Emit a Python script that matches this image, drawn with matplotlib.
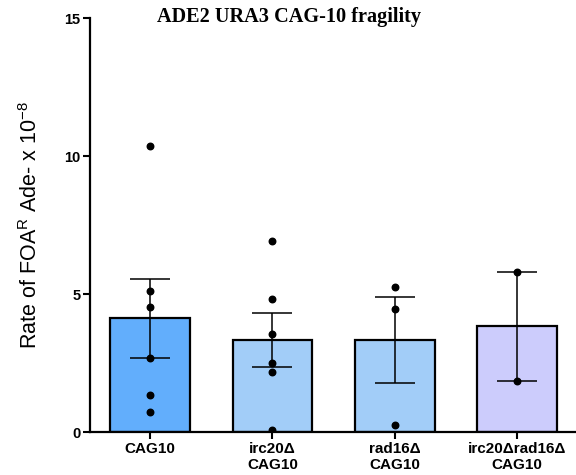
import numpy as np
import matplotlib
matplotlib.use("Agg")
import matplotlib.pyplot as plt

categories = ["CAG10", "irc20Δ\nCAG10", "rad16Δ\nCAG10", "irc20Δrad16Δ\nCAG10"]
points_cag10 = [10.37, 5.11, 4.54, 2.69, 1.34, 0.72]
points_irc20 = [6.93, 4.81, 3.55, 2.49, 2.17, 0.07]
points_rad16 = [5.26, 4.47, 0.25]
points_double = [5.81, 1.86]
groups = [points_cag10, points_irc20, points_rad16, points_double]
colors = ["#62AEFC", "#A2CDF8", "#A2CDF8", "#CCCCFC"]
yticks = [0, 5, 10, 15]

means = [np.mean(g) for g in groups]
sems = [np.std(g, ddof=1) / np.sqrt(len(g)) for g in groups]

fig = plt.figure(figsize=(5.76, 4.75), dpi=100)
ax = fig.add_axes([90/576, 1-432/475, (576-90)/576, (432-18)/475])

x = np.arange(len(categories))
ax.bar(x, means, width=0.65, color=colors, edgecolor="black", linewidth=1.6, zorder=2)
ax.errorbar(x, means, yerr=sems, fmt="none", ecolor="black", elinewidth=1.1,
            capsize=14.5, capthick=1.1, zorder=3)
for i, g in enumerate(groups):
    ax.scatter([x[i]]*len(g), g, s=22, color="black", zorder=4)

ax.set_xlim(-0.49, 3.48)
ax.set_ylim(0, 15)
ax.set_yticks(yticks)
ax.set_xticks(x)
ax.set_xticklabels(categories, fontfamily="Liberation Sans", fontweight="bold", fontsize=11,
                   linespacing=1.2)
ax.set_yticklabels([str(t) for t in yticks], fontfamily="Liberation Sans", fontweight="bold", fontsize=10.5)
ax.tick_params(axis="both", width=1.5, length=5, pad=2)
for s in ["top", "right"]:
    ax.spines[s].set_visible(False)
for s in ["left", "bottom"]:
    ax.spines[s].set_linewidth(1.6)

ax.set_ylabel("Rate of FOA$^{\\mathregular{R}}$ Ade- x 10$^{\\mathregular{-8}}$",
              fontfamily="Liberation Sans", fontsize=15.5, labelpad=16)
fig.text(289/576, 1-17/475, "ADE2 URA3 CAG-10 fragility", fontfamily="Liberation Serif",
         fontweight="bold", fontsize=14.6, ha="center", va="center")

fig.savefig("out.png", dpi=100)
